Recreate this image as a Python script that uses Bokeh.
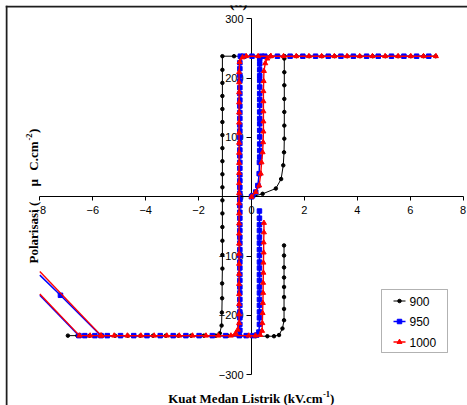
import math
from bokeh.plotting import figure
from bokeh.models import Range1d, LinearAxis, FixedTicker, Label, BoxAnnotation, Span
from bokeh.embed import file_html
from bokeh.resources import INLINE

# ---------------------------------------------------------------------------
# Axis ticks (axes cross at the origin)
x_ticks = [-8, -6, -4, -2, 0, 2, 4, 6, 8]
y_ticks = [-300, -200, -100, 0, 100, 200, 300]

series_names = ["900", "950", "1000"]
series_colors = ["#000000", "#0000ff", "#ff0000"]
series_markers = ["circle", "square", "triangle"]

# ---------------------------------------------------------------------------
# 900 : field E (kV/cm) and polarisation P (uC/cm^2)
e900_virgin = [0.00, 0.42, 0.92, 1.12, 1.20, 1.23, 1.24, 1.24, 1.24, 1.24, 1.24, 1.24, 1.24, 1.24]
p900_virgin = [0, 5, 14, 30, 53, 75, 98, 120, 143, 165, 188, 210, 233, 237]

e900_down = [6.96, 6.50, 6.02, 5.54, 5.06, 4.58, 4.10, 3.62, 3.14, 2.66, 2.18, 1.70, 1.24, 0.72,
             0.25, -0.21, -0.66, -1.10,
             -1.10, -1.10, -1.10, -1.10, -1.10, -1.10, -1.10, -1.10, -1.10, -1.10,
             -1.10, -1.10, -1.10, -1.10, -1.10, -1.10, -1.11, -1.11, -1.12, -1.13,
             -1.20, -1.35,
             -1.80, -2.28, -2.76, -3.24, -3.72, -4.20, -4.68, -5.16, -5.64, -6.12, -6.58, -6.94]
p900_down = [237, 237, 237, 237, 237, 237, 237, 237, 237, 237, 237, 237, 237, 237,
             237, 237, 237, 237,
             214, 192, 170, 148, 126, 104, 82, 60, 38, 16,
             -6, -28, -51, -74, -98, -121, -146, -171, -195, -217,
             -230, -234,
             -234, -234, -234, -234, -234, -234, -234, -234, -234, -234, -234, -234]

e900_up = [-0.90, -0.42, 0.16, 0.60, 0.85, 1.04, 1.17, 1.23, 1.23, 1.23, 1.23, 1.23, 1.23, 1.23, 1.23]
p900_up = [-234, -234, -235, -235, -235, -233, -222, -208, -189, -169, -152, -136, -119, -99, -82]

# ---------------------------------------------------------------------------
# 950
e950_virgin = [0.00, 0.04, 0.16, 0.24, 0.29, 0.30,
               0.31, 0.31, 0.31, 0.31, 0.31, 0.31, 0.31, 0.31, 0.31, 0.31,
               0.31, 0.31, 0.31, 0.31, 0.31, 0.31, 0.31, 0.33, 0.38]
p950_virgin = [0, 2, 8, 19, 39, 58,
               67, 78, 89, 101, 112, 123, 132, 143, 154, 164,
               174, 185, 196, 204, 214, 224, 232, 236, 237]

e950_down = [6.70, 6.24, 5.76, 5.29, 4.79, 4.35, 3.85, 3.38, 2.90, 2.42, 1.94, 1.46, 0.98, 0.50,
             0.02, -0.30, -0.42,
             -0.44, -0.44, -0.44, -0.44, -0.44, -0.44, -0.44, -0.44, -0.44, -0.44, -0.44,
             -0.44, -0.44, -0.44, -0.44, -0.44, -0.44, -0.44, -0.44, -0.44, -0.44, -0.44,
             -0.44, -0.44, -0.44, -0.44, -0.44, -0.44, -0.44, -0.44, -0.44, -0.44, -0.44,
             -0.44, -0.44, -0.44, -0.44, -0.44, -0.44, -0.44, -0.44, -0.44, -0.44, -0.44,
             -0.46,
             -0.98, -1.48, -1.98, -2.48, -2.96, -3.45, -3.95, -4.45, -4.95, -5.45, -5.92, -6.30, -6.52]
p950_down = [237, 237, 237, 237, 237, 237, 237, 237, 237, 237, 237, 237, 237, 237,
             237, 237, 237,
             226, 216, 205, 195, 184, 174, 163, 153, 142, 132, 121,
             111, 100, 90, 79, 69, 58, 48, 37, 27, 16, 6,
             -5, -15, -26, -36, -47, -57, -68, -78, -89, -99, -110,
             -120, -131, -141, -152, -162, -173, -183, -194, -204, -215, -225,
             -234,
             -234, -234, -234, -234, -234, -234, -234, -234, -234, -234, -234, -234, -234]

e950_up = [-5.69, -0.20, 0.05, 0.20, 0.28,
           0.30, 0.30, 0.30, 0.30, 0.30, 0.30, 0.30, 0.30, 0.30, 0.30,
           0.30, 0.30, 0.30, 0.30, 0.30, 0.30, 0.30, 0.30, 0.30]
p950_up = [-234, -234, -234, -233, -228,
           -215, -204, -194, -183, -173, -162, -152, -141, -131, -120,
           -110, -99, -89, -78, -68, -57, -47, -36, -24]

# straight runs that leave the field window on the left (cut at -8)
e950_edge_lo = [-6.52, -8.00]
p950_edge_lo = [-234, -166]
e950_edge_hi = [-8.00, -7.22, -5.69]
p950_edge_hi = [-132, -166, -234]

# ---------------------------------------------------------------------------
# 1000
e1000_virgin = [0.00, 0.16, 0.29, 0.35, 0.38, 0.42, 0.44, 0.45, 0.45, 0.45, 0.45, 0.45,
                0.46, 0.47, 0.52, 0.60, 0.73]
p1000_virgin = [0, 8, 19, 39, 58, 75, 92, 110, 127, 144, 161, 178,
                195, 212, 225, 233, 237]

e1000_down = [6.97, 6.50, 6.02, 5.54, 5.05, 4.57, 4.09, 3.61, 3.13, 2.65, 2.17, 1.69, 1.21, 0.73,
              0.25, -0.20, -0.34, -0.45,
              -0.47, -0.47, -0.47, -0.47, -0.47, -0.47, -0.47, -0.47, -0.47, -0.47, -0.47,
              -0.47, -0.47, -0.47, -0.47, -0.47, -0.47, -0.47, -0.47, -0.47, -0.47, -0.47,
              -0.47, -0.47, -0.47, -0.47,
              -0.52, -0.60, -0.78,
              -1.25, -1.72, -2.23, -2.73, -3.20, -3.68, -4.18, -4.69, -5.19, -5.69, -6.10, -6.50]
p1000_down = [237, 237, 237, 237, 237, 237, 237, 237, 237, 237, 237, 237, 237, 237,
              237, 237, 235, 227,
              210, 193, 176, 159, 142, 125, 108, 91, 74, 57, 40,
              23, 6, -11, -28, -45, -62, -79, -96, -113, -130, -147,
              -164, -181, -198, -213,
              -224, -230, -234,
              -234, -234, -234, -234, -234, -234, -234, -234, -234, -234, -234, -234]

e1000_up = [-5.68, -0.10, 0.15, 0.33, 0.40, 0.41, 0.42, 0.43, 0.44, 0.44, 0.45, 0.45, 0.46, 0.46,
            0.47, 0.47]
p1000_up = [-234, -234, -234, -233, -226, -213, -196, -179, -162, -145, -128, -111, -94, -77,
            -60, -44]

e1000_edge_lo = [-6.50, -8.00]
p1000_edge_lo = [-234, -164]
e1000_edge_hi = [-8.00, -5.68]
p1000_edge_hi = [-126, -234]

# ---------------------------------------------------------------------------
# canvas geometry: pixel <-> data conversion used for the page layout
W, H = 467, 405
FRAME_L, FRAME_T = 5, 5
X0_PX, KX = 251.0, 26.46      # pixel of E = 0, pixels per kV/cm
Y0_PX, KY = 196.3, 0.5933     # pixel of P = 0, pixels per uC/cm^2


def ex(px):
    return (px - X0_PX) / KX


def ey(py):
    return (Y0_PX - py) / KY


p = figure(width=W, height=H, output_backend="svg", toolbar_location=None,
           x_axis_location=None, y_axis_location=None,
           x_range=Range1d(ex(FRAME_L), ex(W)), y_range=Range1d(ey(H), ey(FRAME_T)),
           min_border_left=FRAME_L, min_border_top=FRAME_T,
           min_border_right=0, min_border_bottom=0)
p.outline_line_color = None
p.background_fill_color = "white"
p.border_fill_color = "white"
p.grid.visible = False

# chart-area border (left and top edges)
p.add_layout(Span(location=ex(6), dimension="height", line_color="#1e1e1e", line_width=2))
p.add_layout(Span(location=ey(6), dimension="width", line_color="#1e1e1e", line_width=2))

# crossing axes
axis_style = dict(axis_line_color="black", axis_line_width=1,
                  major_tick_line_color="black", major_tick_in=0,
                  minor_tick_line_color=None,
                  major_label_text_font="Liberation Sans",
                  major_label_text_font_size="11px",
                  major_label_text_color="#000000")
xaxis = LinearAxis(fixed_location=0, bounds=(-8, 8), ticker=FixedTicker(ticks=x_ticks),
                   major_tick_out=4, major_label_standoff=5, **axis_style)
yaxis = LinearAxis(fixed_location=0, bounds=(-300, 300), ticker=FixedTicker(ticks=y_ticks),
                   major_tick_out=5, major_label_standoff=3, **axis_style)
xaxis.level = "underlay"
yaxis.level = "underlay"
p.add_layout(xaxis, "below")
p.add_layout(yaxis, "left")

series = [
    dict(paths=[(e900_virgin, p900_virgin), (e900_down, p900_down), (e900_up, p900_up)],
         edges=[], lw=1.0, size=3.5),
    dict(paths=[(e950_virgin, p950_virgin), (e950_down, p950_down), (e950_up, p950_up)],
         edges=[(e950_edge_lo, p950_edge_lo), (e950_edge_hi, p950_edge_hi)], lw=1.5, size=4.5),
    dict(paths=[(e1000_virgin, p1000_virgin), (e1000_down, p1000_down), (e1000_up, p1000_up)],
         edges=[(e1000_edge_lo, p1000_edge_lo), (e1000_edge_hi, p1000_edge_hi)], lw=1.4, size=5),
]

for s, color, marker in zip(series, series_colors, series_markers):
    for e, pol in s["paths"]:
        p.line(e, pol, line_color=color, line_width=s["lw"])
        p.scatter(e, pol, marker=marker, size=s["size"], fill_color=color, line_color=color)
    for e, pol in s["edges"]:
        p.line(e, pol, line_color=color, line_width=s["lw"])
        if len(e) > 2:
            p.scatter(e[1:-1], pol[1:-1], marker=marker, size=s["size"],
                      fill_color=color, line_color=color)

# legend
p.add_layout(BoxAnnotation(left=ex(381), right=ex(447), top=ey(289), bottom=ey(352),
                           fill_color="white", fill_alpha=1.0, line_color="black",
                           line_width=1, level="underlay"))
legend_rows = [300.5, 321.0, 341.5]
for name, color, marker, s, row in zip(series_names, series_colors, series_markers, series, legend_rows):
    p.line([ex(393), ex(405)], [ey(row), ey(row)], line_color=color, line_width=s["lw"])
    p.scatter([ex(399)], [ey(row)], marker=marker, size=s["size"], fill_color=color, line_color=color)
    p.add_layout(Label(x=ex(409), y=ey(row), text=name, text_baseline="middle",
                       text_align="left", text_font="Liberation Sans", text_font_size="12px",
                       text_color="black"))

serif = dict(text_font="Liberation Serif", text_font_style="bold", text_color="black")

# x axis title with superscript
p.add_layout(Label(x=ex(322), y=ey(398), text="Kuat Medan Listrik (kV.cm", text_align="right",
                   text_baseline="alphabetic", text_font_size="13px", **serif))
p.add_layout(Label(x=ex(322.5), y=ey(393.5), text="-1", text_align="left",
                   text_baseline="alphabetic", text_font_size="8.5px", **serif))
p.add_layout(Label(x=ex(329.5), y=ey(398), text=")", text_align="left",
                   text_baseline="alphabetic", text_font_size="13px", **serif))

# y axis title (rotated, reads upwards) with superscript
rot = dict(text_baseline="alphabetic", angle=math.pi / 2, **serif)
p.add_layout(Label(x=ex(33), y=ey(263), text="Polarisasi (", text_align="left",
                   text_font_size="13px", **rot))
p.add_layout(Label(x=ex(33), y=ey(186), text="\u00b5", text_align="left",
                   text_font_size="13px", **rot))
p.add_layout(Label(x=ex(33), y=ey(141), text="C.cm", text_align="right",
                   text_font_size="13px", **rot))
p.add_layout(Label(x=ex(28.5), y=ey(140), text="-2", text_align="left",
                   text_font_size="8.5px", **rot))
p.add_layout(Label(x=ex(33), y=ey(132.5), text=")", text_align="left",
                   text_font_size="13px", **rot))

# panel tag above the chart area
p.add_layout(Label(x=ex(238), y=ey(1), text="(a)", text_align="center",
                   text_baseline="alphabetic", text_font_size="16px", **serif))

open("out.html", "w").write(file_html(p, INLINE))
